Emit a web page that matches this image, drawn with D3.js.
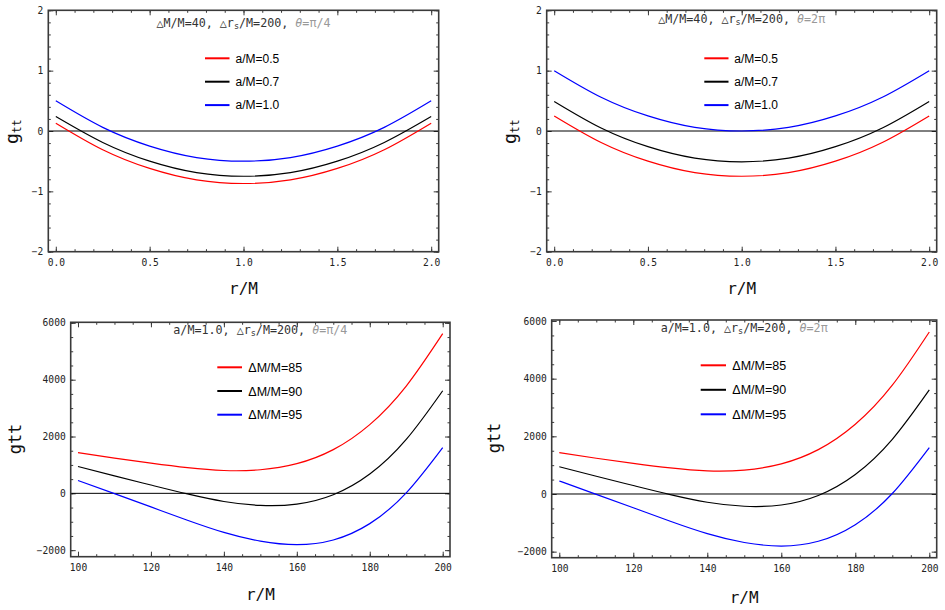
<!DOCTYPE html>
<html><head><meta charset="utf-8">
<script src="https://cdn.jsdelivr.net/npm/d3@7"></script>
<style>body{margin:0;background:#fff;} svg{display:block;}</style>
</head><body><svg id="c" width="945" height="610"></svg>
<script>
// ---------- data ----------
const rTop = [0, 0.25, 0.5, 0.75, 1, 1.25, 1.5, 1.75, 2];
const p1_a05 = [0.13, -0.31, -0.62, -0.81, -0.87, -0.81, -0.62, -0.31, 0.13];
const p1_a07 = [0.24, -0.19, -0.50, -0.69, -0.75, -0.69, -0.50, -0.19, 0.24];
const p1_a10 = [0.50, 0.06, -0.25, -0.44, -0.50, -0.44, -0.25, 0.06, 0.50];
const p2_a05 = [0.25, -0.19, -0.50, -0.69, -0.75, -0.69, -0.50, -0.19, 0.25];
const p2_a07 = [0.49, 0.05, -0.26, -0.45, -0.51, -0.45, -0.26, 0.05, 0.49];
const p2_a10 = [1.00, 0.56, 0.25, 0.06, 0.00, 0.06, 0.25, 0.56, 1.00];

const rBot = [100, 110, 120, 130, 140, 150, 160, 170, 180, 190, 200];
const p3_dm85 = [1436, 1240, 1063, 905, 804, 831, 1045, 1539, 2419, 3775, 5620];
const p3_dm90 = [944, 614, 293, -21, -286, -426, -381, -51, 677, 1896, 3610];
const p3_dm95 = [452, -12, -478, -946, -1375, -1683, -1806, -1641, -1066, 17, 1610];
const p4_dm85 = [1436, 1240, 1063, 905, 804, 831, 1045, 1539, 2419, 3775, 5620];
const p4_dm90 = [944, 614, 293, -21, -286, -426, -381, -51, 677, 1896, 3610];
const p4_dm95 = [452, -12, -478, -946, -1375, -1683, -1806, -1641, -1066, 17, 1610];

const topLegend = ["a/M=0.5", "a/M=0.7", "a/M=1.0"];
const botLegend = ["\u0394M/M=85", "\u0394M/M=90", "\u0394M/M=95"];
const colors = ["#ff0000", "#000000", "#0000ff"];

const topXMajor = [0, 0.5, 1, 1.5, 2];
const topYMajor = [-2, -1, 0, 1, 2];
const botXMajor = [100, 120, 140, 160, 180, 200];
const botYMajor = [-2000, 0, 2000, 4000, 6000];

// ---------- drawing ----------
const svg = d3.select("#c");
const MONO = "'DejaVu Sans Mono', monospace";
const SANS = "'Liberation Sans', Arial, sans-serif";
const FRAME = "#3a3a3a";

function panel(cfg) {
  const x = d3.scaleLinear().domain(cfg.xDom).range([cfg.left, cfg.right]);
  const y = d3.scaleLinear().domain(cfg.yDom).range([cfg.bottom, cfg.top]);
  const g = svg.append("g");

  function ax(gen, tr, vals, size, labels, fmt, pad) {
    const a = gen.tickValues(vals).tickSize(-size).tickPadding(pad || 3)
      .tickFormat(labels ? fmt : () => "");
    const s = g.append("g").attr("transform", tr).call(a);
    s.select(".domain").remove();
    s.selectAll("line").attr("stroke", FRAME).attr("stroke-width", 1);
    s.selectAll("text").attr("font-family", MONO).attr("font-size", 9.6).attr("fill", "#222");
    return s;
  }
  const xMinor = d3.range(cfg.xMinor[0], cfg.xMinor[1] + 1e-9, cfg.xMinor[2]);
  const yMinor = d3.range(cfg.yMinor[0], cfg.yMinor[1] + 1e-9, cfg.yMinor[2]);
  ax(d3.axisBottom(x), `translate(0,${cfg.bottom})`, cfg.xMajor, 5, true, cfg.xFmt, 7);
  ax(d3.axisBottom(x), `translate(0,${cfg.bottom})`, xMinor, 2.5, false);
  ax(d3.axisTop(x), `translate(0,${cfg.top})`, cfg.xMajor, 5, false);
  ax(d3.axisTop(x), `translate(0,${cfg.top})`, xMinor, 2.5, false);
  ax(d3.axisLeft(y), `translate(${cfg.left},0)`, cfg.yMajor, 5, true, cfg.yFmt, 5);
  ax(d3.axisLeft(y), `translate(${cfg.left},0)`, yMinor, 2.5, false);
  ax(d3.axisRight(y), `translate(${cfg.right},0)`, cfg.yMajor, 5, false);
  ax(d3.axisRight(y), `translate(${cfg.right},0)`, yMinor, 2.5, false);

  g.append("line").attr("x1", cfg.left).attr("x2", cfg.right)
    .attr("y1", y(0)).attr("y2", y(0)).attr("stroke", "#000").attr("stroke-width", 1);

  const line = d3.line().x(d => x(d[0])).y(d => y(d[1])).curve(d3.curveNatural);
  cfg.series.forEach((vals, i) => {
    g.append("path").datum(cfg.xs.map((v, j) => [v, vals[j]]))
      .attr("d", line).attr("fill", "none")
      .attr("stroke", colors[i]).attr("stroke-width", 1.2);
  });

  g.append("rect").attr("x", cfg.left).attr("y", cfg.top)
    .attr("width", cfg.right - cfg.left).attr("height", cfg.bottom - cfg.top)
    .attr("fill", "none").attr("stroke", FRAME).attr("stroke-width", 1.6);

  cfg.legend.forEach((t, i) => {
    const ly = cfg.leg.y0 + i * cfg.leg.dy;
    g.append("line").attr("x1", cfg.leg.x1).attr("x2", cfg.leg.x2)
      .attr("y1", ly).attr("y2", ly).attr("stroke", colors[i]).attr("stroke-width", 2);
    g.append("text").attr("x", cfg.leg.tx).attr("y", ly + cfg.leg.fs * 0.36)
      .attr("font-family", SANS).attr("font-size", cfg.leg.fs).attr("fill", "#000").text(t);
  });

  const cx = (cfg.left + cfg.right) / 2;
  const tt = g.append("text").attr("x", cx).attr("y", cfg.titleY)
    .attr("text-anchor", "middle").attr("font-family", MONO).attr("font-size", 11.7).attr("fill", "#333");
  tt.append("tspan").text(cfg.title[0]);
  tt.append("tspan").attr("font-size", 8.5).attr("dy", 2).text("s");
  tt.append("tspan").attr("dy", -2).text(cfg.title[1]);
  tt.append("tspan").attr("fill", "#999").attr("font-style", "italic").text("\u03B8");
  tt.append("tspan").attr("fill", "#999").text(cfg.title[2]);

  g.append("text").attr("x", cx).attr("y", cfg.xLabY).attr("text-anchor", "middle")
    .attr("font-family", MONO).attr("font-size", 16).attr("fill", "#111").text("r/M");

  const yl = g.append("text").attr("transform", `translate(${cfg.yLabX},${cfg.yLabY}) rotate(-90)`)
    .attr("text-anchor", "middle").attr("font-family", MONO).attr("fill", "#111");
  if (cfg.subY) {
    yl.attr("font-size", 18);
    yl.append("tspan").text("g");
    yl.append("tspan").attr("font-size", 11.5).attr("dy", 3).text("tt");
  } else {
    yl.attr("font-size", 17).text("gtt");
  }
}

const fmtTopX = d3.format(".1f");
const fmtInt = d3.format("d");

panel({
  left: 48.3, right: 438.7, top: 10.3, bottom: 251.7,
  xDom: [-0.04, 2.04], yDom: [-2, 2],
  xMajor: topXMajor, yMajor: topYMajor, xMinor: [0, 2, 0.1], yMinor: [-2, 2, 0.2],
  xFmt: fmtTopX, yFmt: fmtInt,
  xs: rTop, series: [p1_a05, p1_a07, p1_a10], legend: topLegend,
  leg: { x1: 205, x2: 229.5, tx: 235.5, y0: 58.3, dy: 23.4, fs: 12 },
  title: ["\u25B3M/M=40, \u25B3r", "/M=200, ", "=\u03C0/4"], titleY: 26.5,
  xLabY: 294, yLabX: 17.5, yLabY: 131.7, subY: true
});
panel({
  left: 546.7, right: 936.7, top: 10.3, bottom: 251.7,
  xDom: [-0.04, 2.04], yDom: [-2, 2],
  xMajor: topXMajor, yMajor: topYMajor, xMinor: [0, 2, 0.1], yMinor: [-2, 2, 0.2],
  xFmt: fmtTopX, yFmt: fmtInt,
  xs: rTop, series: [p2_a05, p2_a07, p2_a10], legend: topLegend,
  leg: { x1: 704.3, x2: 728.5, tx: 734.3, y0: 58.3, dy: 23.4, fs: 12 },
  title: ["\u25B3M/M=40, \u25B3r", "/M=200, ", "=2\u03C0"], titleY: 23,
  xLabY: 294, yLabX: 515.5, yLabY: 131.7, subY: true
});
panel({
  left: 70.7, right: 450, top: 322.3, bottom: 556.7,
  xDom: [98, 202], yDom: [-2230, 6020],
  xMajor: botXMajor, yMajor: botYMajor, xMinor: [100, 200, 5], yMinor: [-2000, 6000, 500],
  xFmt: fmtInt, yFmt: fmtInt,
  xs: rBot, series: [p3_dm85, p3_dm90, p3_dm95], legend: botLegend,
  leg: { x1: 217.3, x2: 242, tx: 248.3, y0: 367.3, dy: 23.7, fs: 12.5 },
  title: ["a/M=1.0, \u25B3r", "/M=200, ", "=\u03C0/4"], titleY: 334,
  xLabY: 600, yLabX: 21, yLabY: 439, subY: false
});
panel({
  left: 551.7, right: 936.7, top: 320, bottom: 557.7,
  xDom: [97.95, 202], yDom: [-2210, 6035],
  xMajor: botXMajor, yMajor: botYMajor, xMinor: [100, 200, 5], yMinor: [-2000, 6000, 500],
  xFmt: fmtInt, yFmt: fmtInt,
  xs: rBot, series: [p4_dm85, p4_dm90, p4_dm95], legend: botLegend,
  leg: { x1: 700.7, x2: 726, tx: 732.3, y0: 365.3, dy: 24.5, fs: 12.5 },
  title: ["a/M=1.0, \u25B3r", "/M=200, ", "=2\u03C0"], titleY: 332,
  xLabY: 602.5, yLabX: 500, yLabY: 438, subY: false
});
</script></body></html>
